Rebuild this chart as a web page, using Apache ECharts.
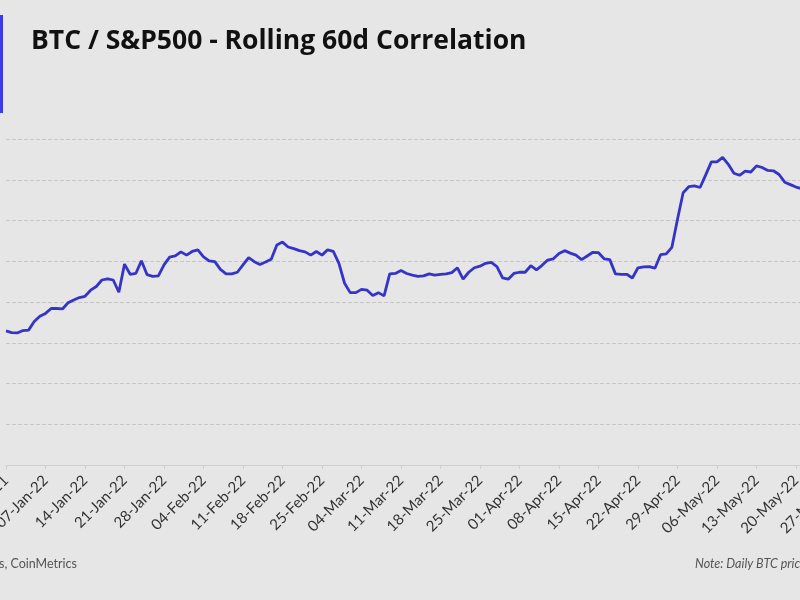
<!DOCTYPE html>
<html>
<head>
<meta charset="utf-8">
<script src="https://cdn.jsdelivr.net/npm/echarts@6/dist/echarts.min.js"></script>
<style>
  html, body { margin: 0; padding: 0; width: 800px; height: 600px; overflow: hidden; background: #e6e6e6; }
  #chart { position: absolute; left: -60px; top: 0; width: 960px; height: 600px; }
</style>
</head>
<body>
<div id="chart"></div>
<script>
// ---- data ----
const titleText = "BTC / S&P500 - Rolling 60d Correlation";
const sourceText = "Sources: Yahoo Finance, Arcane Research Analytics, CoinMetrics";
const noteText = "Note: Daily BTC prices at 21:00 UTC";
const startDate = "2021-12-31";
const dayCount = 148; // 31-Dec-21 .. 27-May-22
const yTicks = [0, 0.1, 0.2, 0.3, 0.4, 0.5, 0.6, 0.7, 0.8];
const correlation = [
  0.329, 0.325, 0.324, 0.330, 0.331, 0.352, 0.365, 0.372, 0.384, 0.384,
  0.383, 0.398, 0.405, 0.411, 0.414, 0.429, 0.438, 0.454, 0.457, 0.454,
  0.424, 0.493, 0.468, 0.470, 0.501, 0.467, 0.463, 0.464, 0.491, 0.510,
  0.513, 0.523, 0.515, 0.524, 0.528, 0.511, 0.501, 0.499, 0.480, 0.469,
  0.469, 0.473, 0.491, 0.509, 0.499, 0.492, 0.498, 0.505, 0.540, 0.547,
  0.535, 0.531, 0.526, 0.523, 0.515, 0.524, 0.515, 0.528, 0.524, 0.495,
  0.446, 0.423, 0.423, 0.431, 0.429, 0.416, 0.423, 0.415, 0.469, 0.470,
  0.477, 0.470, 0.466, 0.463, 0.464, 0.469, 0.466, 0.468, 0.469, 0.472,
  0.484, 0.456, 0.473, 0.484, 0.488, 0.495, 0.497, 0.487, 0.459, 0.456,
  0.470, 0.473, 0.473, 0.489, 0.479, 0.490, 0.503, 0.506, 0.519, 0.526,
  0.520, 0.515, 0.504, 0.513, 0.522, 0.521, 0.506, 0.504, 0.469, 0.468,
  0.468, 0.459, 0.484, 0.486, 0.487, 0.483, 0.516, 0.518, 0.534, 0.603,
  0.668, 0.683, 0.685, 0.681, 0.712, 0.744, 0.744, 0.755, 0.738, 0.716,
  0.711, 0.721, 0.719, 0.734, 0.730, 0.723, 0.722, 0.713, 0.694, 0.688,
  0.682, 0.678
];

const months = ["Jan","Feb","Mar","Apr","May","Jun","Jul","Aug","Sep","Oct","Nov","Dec"];
const categories = [];
(function () {
  const d0 = new Date(startDate + "T00:00:00Z");
  for (let i = 0; i < dayCount; i++) {
    const d = new Date(d0.getTime() + i * 86400000);
    const dd = String(d.getUTCDate()).padStart(2, "0");
    const yy = String(d.getUTCFullYear()).slice(2);
    categories.push(dd + "-" + months[d.getUTCMonth()] + "-" + yy);
  }
})();

const chart = echarts.init(document.getElementById("chart"), null, { renderer: "canvas" });
chart.setOption({
  backgroundColor: "#e6e6e6",
  animation: false,
  title: {
    text: titleText,
    left: 86, top: 23,
    textStyle: { fontFamily: "Open Sans", fontWeight: "bold", fontSize: 26.5, color: "#111" }
  },
  graphic: [
    { type: "rect", left: 59, top: 15, shape: { width: 4, height: 98 }, style: { fill: "#3b3bea" } },
    { type: "text", right: 960 - 137, top: 557, style: { text: sourceText, fontFamily: "Lato", fontSize: 12.5, fill: "#555", textAlign: "right" } },
    { type: "text", left: 755, top: 557, style: { text: noteText, fontFamily: "Lato", fontSize: 12.5, fontStyle: "italic", fill: "#555" } }
  ],
  grid: { left: 66, right: 64.5, top: 139, bottom: 135 },
  xAxis: {
    type: "category",
    data: categories,
    boundaryGap: false,
    axisLine: { lineStyle: { color: "#cfcfcf", width: 1 } },
    axisTick: { interval: 6, length: 4, lineStyle: { color: "#cfcfcf" } },
    axisLabel: { interval: 6, rotate: 45, fontFamily: "Lato", fontSize: 15, color: "#333", margin: 13 },
    splitLine: { show: false }
  },
  yAxis: {
    type: "value",
    min: yTicks[0], max: yTicks[yTicks.length - 1], interval: 0.1,
    axisLine: { show: false }, axisTick: { show: false },
    axisLabel: { color: "#333", fontFamily: "Lato", fontSize: 12, formatter: v => v.toFixed(1) },
    splitLine: { lineStyle: { type: "dashed", color: "#c6c6c6", width: 1 } }
  },
  series: [{
    type: "line",
    data: correlation,
    showSymbol: false,
    lineStyle: { color: "#3434c8", width: 2.8 },
    itemStyle: { color: "#3434c8" }
  }]
});
</script>
</body>
</html>
